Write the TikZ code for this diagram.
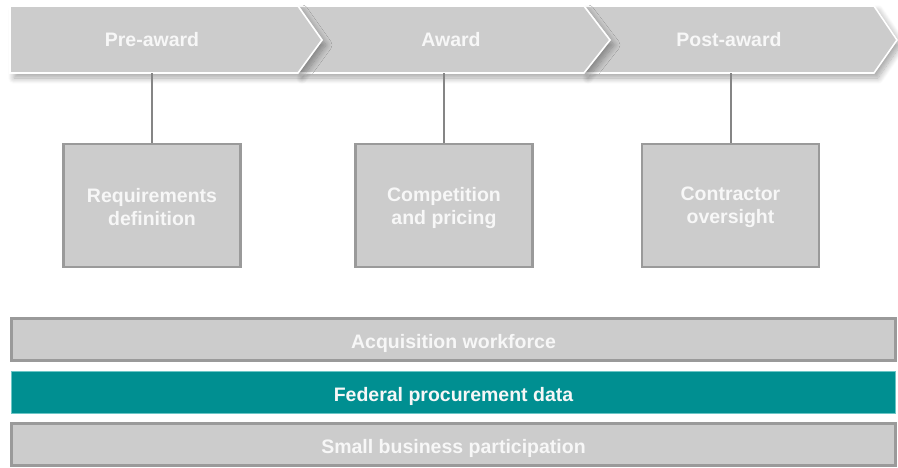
\documentclass[tikz,border=0pt]{standalone}
\usepackage{fontspec}
\setmainfont{Liberation Sans}
\usetikzlibrary{shadows.blur}
\definecolor{boxgray}{HTML}{CCCCCC}
\definecolor{edgegray}{HTML}{9A9A9A}
\definecolor{linegray}{HTML}{858585}
\definecolor{teal}{HTML}{008F91}
\definecolor{tealedge}{HTML}{6CC6C6}
\definecolor{labelwhite}{HTML}{F7F7F7}
\tikzset{
  phase/.style={fill=boxgray, draw=white, line width=1.6pt, line join=miter,
    blur shadow={shadow xshift=4pt, shadow yshift=-5pt, shadow opacity=35, shadow blur steps=10, shadow blur radius=6pt}},
  phaselabel/.style={text=labelwhite, font=\fontsize{19.5}{23}\selectfont\bfseries,
    minimum height=67pt, inner sep=0pt},
  taskbox/.style={fill=boxgray, draw=edgegray, line width=2.6pt, minimum width=177pt,
    minimum height=123pt, inner sep=0pt, align=center, text=labelwhite,
    font=\fontsize{19.5}{23}\selectfont\bfseries},
  tasktext/.style={text=labelwhite, align=center, inner sep=0pt,
    font=\fontsize{19.5}{23}\selectfont\bfseries},
  bar/.style={fill=boxgray, draw=edgegray, line width=2.6pt, minimum width=884pt,
    minimum height=42pt, inner sep=0pt, text=labelwhite, text height=17pt, text depth=0pt,
    font=\fontsize{19.5}{23}\selectfont\bfseries},
  tealbar/.style={bar, fill=teal, draw=tealedge, line width=1.6pt},
  link/.style={draw=linegray, line width=2pt}
}
\begin{document}
\begin{tikzpicture}[x=1pt, y=-1pt]
\useasboundingbox (0,0) rectangle (898,467);
% process chevrons, drawn back to front so each shadow falls on the next one
\path[phase] (584,6) -- (874,6) -- (897,40) -- (874,73) -- (584,73) -- (610,40) -- cycle;
\path[phase] (298,6) -- (584,6) -- (610,40) -- (584,73) -- (298,73) -- (322,40) -- cycle;
\path[phase] (10,6) -- (298,6) -- (322,40) -- (298,73) -- (10,73) -- cycle;
\node[phaselabel] (pre)  at (152,39.5) {Pre-award};
\node[phaselabel] (aw)   at (451,39.5) {Award};
\node[phaselabel] (post) at (729,39.5) {Post-award};
% activity boxes, their two-line labels set a little below centre
\node[taskbox] (req)  at (152,205.5) {};
\node[taskbox] (comp) at (444,205.5) {};
\node[taskbox] (over) at (730.5,205.5) {};
\node[tasktext] (reqt)  at ([yshift=-2pt]req.center)  {Requirements\\definition};
\node[tasktext] (compt) at ([yshift=-2pt]comp.center) {Competition\\and pricing};
\node[tasktext] (overt) at ([yshift=-2pt]over.center) {Contractor\\oversight};
% connectors from each phase to its activity
\draw[link] (req.north)  -- (req.north |- pre.south);
\draw[link] (comp.north) -- (comp.north |- aw.south);
\draw[link] (over.north) -- (over.north |- post.south);
% cross-cutting bars
\node[bar]     (wf)  at (453.5,339.5) {Acquisition workforce};
\node[tealbar] (fpd) at (453.5,392.5) {Federal procurement data};
\node[bar]     (sb)  at (453.5,444.5) {Small business participation};
\end{tikzpicture}
\end{document}
